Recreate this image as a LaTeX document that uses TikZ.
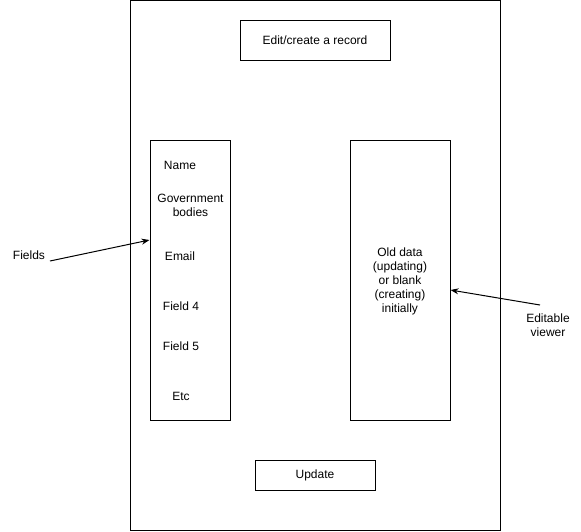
\documentclass[tikz,border=0pt]{standalone}
\usepackage{fontspec}
\setmainfont{Liberation Sans}
\usetikzlibrary{arrows.meta}
\begin{document}
\begin{tikzpicture}[x=1pt,y=-1pt,
  box/.style={draw=black,line width=1pt,fill=white},
  lbl/.style={font=\fontsize{12}{14.5}\selectfont,text=black,inner sep=0pt,align=center},
  arr/.style={draw=black,line width=1pt,-{Stealth[length=8pt,width=6pt]}}]
\useasboundingbox (0,0) rectangle (581,531);
\fill[white] (0,0) rectangle (581,531);
\node[box,minimum width=370pt,minimum height=530pt,inner sep=0pt] (frame) at (315,265.5) {};
\node[box,minimum width=150pt,minimum height=40pt,inner sep=0pt,lbl] (title) at (315,40.5) {Edit/create a record};
\node[box,minimum width=80pt,minimum height=280pt,inner sep=0pt] (fields) at (190,280) {};
\node[box,minimum width=100pt,minimum height=280pt,inner sep=0pt] (viewer) at (400,280) {};
\node[box,minimum width=120pt,minimum height=30pt,inner sep=0pt,lbl] (update) at (315,475.5) {Update};
\node[lbl] (name) at (180,165.5) {Name};
\node[lbl] (gov) at (190.5,205.5) {Government\\bodies};
\node[lbl] (email) at (180,256) {Email};
\node[lbl] (f4) at (181,306) {Field 4};
\node[lbl] (f5) at (181,346) {Field 5};
\node[lbl] (etc) at (181,396) {Etc};
\node[lbl,font=\fontsize{12}{14}\selectfont] (old) at (400,281) {Old data\\(updating)\\or blank\\(creating)\\initially};
\node[lbl] (fl) at (29,255.5) {Fields};
\node[lbl,font=\fontsize{12}{14}\selectfont] (ev) at (548,325) {Editable\\viewer};
\coordinate (fs) at (50,261);
\coordinate (es) at (540,305);
\draw[arr] (fs) -- (fields.west |- 0,240);
\draw[arr] (es) -- (viewer.east |- 0,290);
\end{tikzpicture}
\end{document}
